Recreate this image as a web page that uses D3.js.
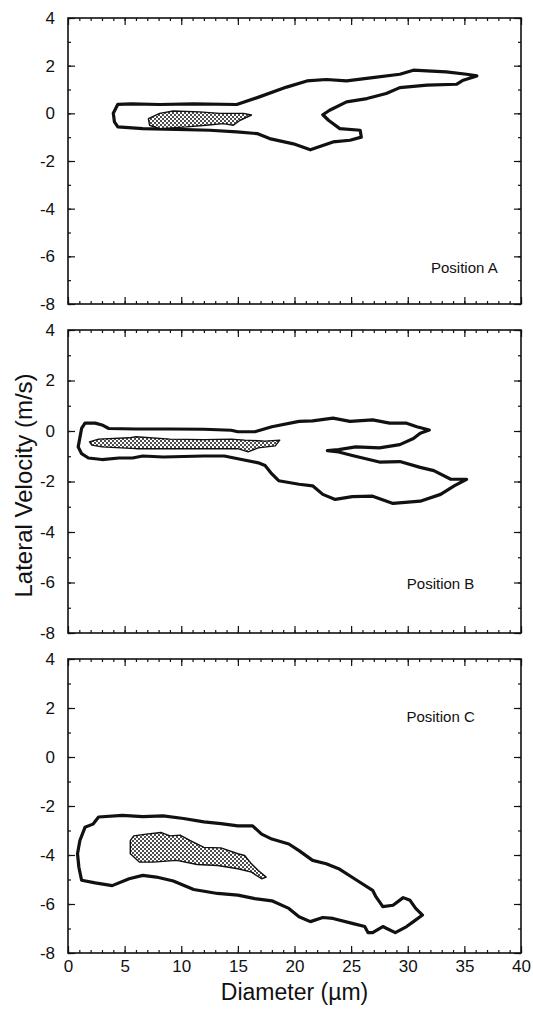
<!DOCTYPE html>
<html lang="en">
<head>
<meta charset="UTF-8">
<title>Lateral Velocity vs Diameter</title>
<script src="https://cdn.jsdelivr.net/npm/d3@7/dist/d3.min.js"></script>
<style>
  body { margin: 0; background: #fff; }
  svg text { font-family: "Liberation Sans", Arial, sans-serif; fill: #111; }
</style>
</head>
<body>
<div id="main"></div>
<script>
  // ---- data (diameter um, lateral velocity m/s) ----
  let xTicks = [0, 5, 10, 15, 20, 25, 30, 35, 40]
  let yTicks = [-8, -6, -4, -2, 0, 2, 4]
  let positionNames = ['Position A', 'Position B', 'Position C']

  // Position A
  let outerA = [[4.0,0],[4.4,0.38],[5.6,0.4],[8.1,0.37],[11.1,0.4],[14.9,0.37],[16.9,0.69],[19.3,1.1],[21.1,1.36],
    [22.8,1.42],[24.6,1.36],[26.9,1.5],[29.3,1.64],[30.5,1.81],[31.7,1.78],[33.4,1.74],[35.2,1.64],[36.1,1.57],
    [34.9,1.39],[34.3,1.22],[31.7,1.18],[29.3,1.08],[28.1,0.83],[26.4,0.62],[24.6,0.48],[23.1,0.13],[22.5,-0.06],
    [23.0,-0.29],[24.0,-0.64],[25.8,-0.71],[25.9,-1.0],[24.9,-1.13],[23.4,-1.2],[21.4,-1.53],[19.9,-1.28],
    [17.8,-1.06],[16.7,-0.85],[14.9,-0.78],[12.5,-0.71],[9.6,-0.67],[6.6,-0.64],[4.4,-0.57],[4.1,-0.36]]
  let innerA = [[7.1,-0.22],[8.1,0],[9.3,0.1],[11.6,0.06],[13.4,0],[15.5,0],[16.2,-0.07],[15.2,-0.29],[14.6,-0.5],
    [13.7,-0.43],[12.2,-0.5],[10.5,-0.57],[8.1,-0.64],[7.2,-0.5]]

  // Position B
  let outerB = [[1.2,0.1],[1.5,0.31],[2.4,0.31],[3.0,0.24],[3.6,0.1],[6.0,0.08],[9.0,0.08],[12.0,0.07],[14.4,0.03],
    [15.0,-0.03],[16.5,-0.03],[18.0,0.17],[20.4,0.38],[21.6,0.4],[23.4,0.51],[24.9,0.38],[26.9,0.44],[28.4,0.31],
    [29.9,0.31],[30.8,0.17],[31.9,0.04],[31.1,-0.09],[30.5,-0.3],[29.3,-0.54],[27.5,-0.67],[25.4,-0.63],[23.9,-0.74],
    [22.9,-0.78],[23.9,-0.83],[25.1,-0.97],[27.5,-1.23],[29.3,-1.21],[31.1,-1.44],[32.3,-1.57],[33.8,-1.91],
    [35.2,-1.91],[34.1,-2.17],[32.9,-2.51],[31.1,-2.78],[28.7,-2.87],[26.9,-2.58],[25.1,-2.6],[23.6,-2.71],
    [22.5,-2.51],[21.6,-2.17],[20.4,-2.11],[18.6,-1.97],[18.0,-1.7],[17.4,-1.37],[16.8,-1.26],[15.0,-1.1],
    [13.8,-0.99],[12.0,-0.99],[8.4,-1.03],[6.6,-0.99],[5.7,-1.07],[4.5,-1.07],[3.0,-1.13],[1.8,-1.07],
    [1.2,-0.9],[0.9,-0.63]]
  let innerB = [[1.9,-0.43],[2.7,-0.32],[5.4,-0.27],[6.0,-0.23],[9.0,-0.32],[12.0,-0.34],[14.4,-0.32],[15.6,-0.36],
    [17.4,-0.4],[18.7,-0.36],[18.3,-0.59],[16.8,-0.67],[15.9,-0.83],[15.0,-0.7],[12.0,-0.7],[9.0,-0.7],[6.0,-0.7],
    [3.0,-0.63],[2.1,-0.56]]

  // Position C
  let outerC = [[2.7,-2.45],[4.8,-2.38],[6.6,-2.43],[8.4,-2.4],[10.2,-2.51],[12.0,-2.65],[13.5,-2.72],[15.0,-2.81],
    [16.3,-2.81],[17.1,-3.15],[18.0,-3.35],[19.5,-3.55],[20.4,-3.82],[21.6,-4.22],[22.8,-4.36],[23.9,-4.56],
    [25.5,-5.03],[26.9,-5.44],[27.2,-5.71],[27.8,-6.11],[28.7,-6.05],[29.6,-5.74],[30.2,-5.85],[30.7,-6.18],
    [31.3,-6.45],[30.5,-6.72],[29.9,-6.92],[28.9,-7.17],[28.1,-6.99],[27.8,-6.92],[26.9,-7.17],[26.5,-7.17],
    [26.2,-6.92],[25.1,-6.79],[23.4,-6.59],[22.5,-6.55],[21.4,-6.72],[20.4,-6.52],[19.5,-6.18],[18.0,-5.87],
    [16.5,-5.78],[15.0,-5.64],[13.2,-5.57],[11.1,-5.41],[9.3,-5.06],[7.8,-4.9],[6.6,-4.83],[5.4,-4.97],
    [3.9,-5.25],[2.4,-5.14],[1.2,-5.03],[0.96,-4.5],[0.84,-3.95],[1.05,-3.41],[1.5,-2.87],[2.2,-2.74]]
  let innerC = [[5.5,-3.41],[5.8,-3.22],[6.9,-3.15],[8.2,-3.08],[9.0,-3.22],[9.9,-3.19],[10.8,-3.41],[12.0,-3.69],
    [13.5,-3.71],[15.0,-3.95],[15.6,-4.02],[16.2,-4.36],[16.8,-4.63],[17.5,-4.9],[17.1,-4.97],[16.2,-4.7],
    [15.0,-4.56],[13.2,-4.43],[11.4,-4.39],[9.6,-4.22],[7.5,-4.29],[6.3,-4.29],[5.5,-3.95]]

  let outers = [outerA, outerB, outerC]
  let inners = [innerA, innerB, innerC]

  // ---- layout ----
  let W = 533, H = 1010
  let left = 68, right = 521
  let panelTop = [18, 330, 659]
  let panelBottom = [304, 633, 953]
  let labelAt = [[35, -6.55], [32.9, -6.1], [32.9, 1.6]]   // centre of "Position" text, data units

  let svg = d3.select('#main').append('svg')
    .attr('width', W)
    .attr('height', H)

  // stipple fill
  let pat = svg.append('defs').append('pattern')
    .attr('id', 'dots')
    .attr('patternUnits', 'userSpaceOnUse')
    .attr('width', 4).attr('height', 4)
  pat.append('rect').attr('width', 4).attr('height', 4).attr('fill', '#fff')
  pat.append('circle').attr('cx', 1).attr('cy', 1).attr('r', 1.0).attr('fill', '#111')
  pat.append('circle').attr('cx', 3).attr('cy', 3).attr('r', 1.0).attr('fill', '#111')

  let x = d3.scaleLinear().domain([0, 40]).range([left, right])
  let xMinor = d3.range(0, 41, 1)
  let yMinor = d3.range(-8, 5, 1)

  function drawPanel(i) {
    let y = d3.scaleLinear().domain([-8, 4]).range([panelBottom[i], panelTop[i]])
    let g = svg.append('g')
    let isLast = i === 2

    // minor ticks (inward, all four sides)
    g.append('g').attr('transform', `translate(0,${panelBottom[i]})`)
      .call(d3.axisBottom(x).tickValues(xMinor).tickSize(-3).tickFormat(''))
    g.append('g').attr('transform', `translate(0,${panelTop[i]})`)
      .call(d3.axisTop(x).tickValues(xMinor).tickSize(-3).tickFormat(''))
    g.append('g').attr('transform', `translate(${left},0)`)
      .call(d3.axisLeft(y).tickValues(yMinor).tickSize(-3).tickFormat(''))
    g.append('g').attr('transform', `translate(${right},0)`)
      .call(d3.axisRight(y).tickValues(yMinor).tickSize(-3).tickFormat(''))

    // major ticks
    g.append('g').attr('transform', `translate(0,${panelBottom[i]})`)
      .call(d3.axisBottom(x).tickValues(xTicks).tickSize(-7).tickPadding(7)
        .tickFormat(isLast ? d => String(d) : ''))
    g.append('g').attr('transform', `translate(0,${panelTop[i]})`)
      .call(d3.axisTop(x).tickValues(xTicks).tickSize(-7).tickFormat(''))
    g.append('g').attr('transform', `translate(${left},0)`)
      .call(d3.axisLeft(y).tickValues(yTicks).tickSize(-7).tickPadding(13).tickFormat(d => String(d)))
    g.append('g').attr('transform', `translate(${right},0)`)
      .call(d3.axisRight(y).tickValues(yTicks).tickSize(-7).tickFormat(''))

    g.selectAll('.domain').remove()
    g.selectAll('.tick line').attr('stroke', '#111').attr('stroke-width', 1.2)
    g.selectAll('.tick text').attr('font-size', 17).style('fill', '#111')

    // frame
    g.append('rect')
      .attr('x', left).attr('y', panelTop[i])
      .attr('width', right - left).attr('height', panelBottom[i] - panelTop[i])
      .attr('fill', 'none').attr('stroke', '#111').attr('stroke-width', 1.6)

    let line = d3.line().x(d => x(d[0])).y(d => y(d[1])).curve(d3.curveLinearClosed)

    g.append('path')
      .attr('d', line(outers[i]))
      .attr('fill', 'none')
      .attr('stroke', '#111')
      .attr('stroke-width', 3.2)
      .attr('stroke-linejoin', 'round')

    g.append('path')
      .attr('d', line(inners[i]))
      .attr('fill', 'url(#dots)')
      .attr('stroke', '#111')
      .attr('stroke-width', 1.4)
      .attr('stroke-linejoin', 'round')

    g.append('text')
      .attr('x', x(labelAt[i][0]))
      .attr('y', y(labelAt[i][1]))
      .attr('text-anchor', 'middle')
      .attr('dominant-baseline', 'middle')
      .attr('font-size', 15)
      .text(positionNames[i])
  }

  [0, 1, 2].forEach(drawPanel)

  // axis titles
  svg.append('text')
    .attr('transform', `translate(26,${(panelTop[0] + panelBottom[2]) / 2}) rotate(-90)`)
    .attr('text-anchor', 'middle')
    .attr('dominant-baseline', 'middle')
    .attr('font-size', 24)
    .text('Lateral Velocity (m/s)')

  svg.append('text')
    .attr('x', (left + right) / 2)
    .attr('y', 1000)
    .attr('text-anchor', 'middle')
    .attr('font-size', 23)
    .text('Diameter (µm)')
</script>
</body>
</html>
